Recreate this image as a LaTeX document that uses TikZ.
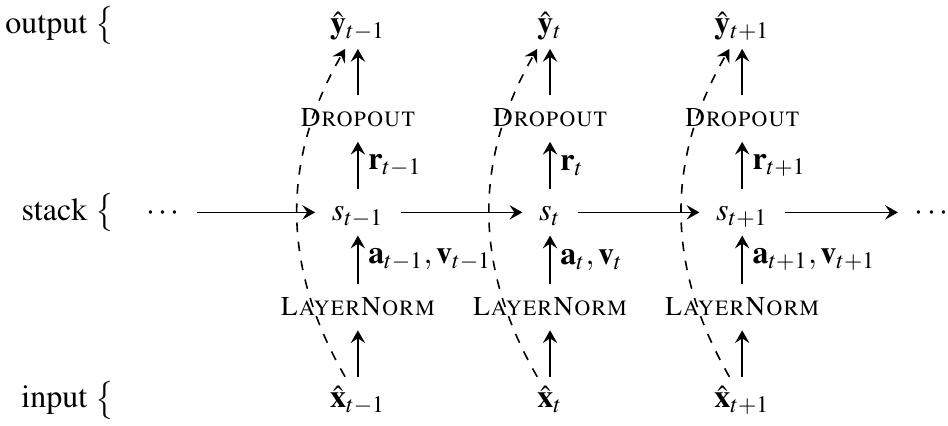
\documentclass[tikz,border=0pt]{standalone}
\usepackage[T1]{fontenc}
\usepackage{mathptmx}
\usetikzlibrary{arrows.meta, positioning}

\begin{document}
\begin{tikzpicture}[
  line width=0.5pt,
  tok/.style={anchor=base, inner xsep=5pt, inner ysep=2.5pt,
    text height=7pt, text depth=2pt},
  lyr/.style={tok, font=\fontsize{8.5}{10}\selectfont\scshape},
  side/.style={anchor=base east, inner sep=0pt},
  arr/.style={-{Stealth[length=4pt, width=4.5pt, inset=1.5pt]}},
  skip/.style={arr, dashed},
  lbl/.style={inner sep=3pt},
]
\useasboundingbox (0,0) rectangle (10.41,-4.67);
% row labels
\node[side] (lblout)   at (1.26,-0.37) {output $\big\{$};
\node[side] (lblstack) at (1.26,-2.42) {stack $\big\{$};
\node[side] (lblin)    at (1.26,-4.48) {input $\big\{$};
% inputs
\node[tok] (xprev) at (3.93,-4.48) {$\hat{\mathbf{x}}_{t-1}$};
\node[tok] (xcur)  at (6.04,-4.48) {$\hat{\mathbf{x}}_{t}$};
\node[tok] (xnext) at (8.15,-4.48) {$\hat{\mathbf{x}}_{t+1}$};
% layer norms
\node[lyr] (lnprev) at (3.93,-3.46) {LayerNorm};
\node[lyr] (lncur)  at (6.04,-3.46) {LayerNorm};
\node[lyr] (lnnext) at (8.15,-3.46) {LayerNorm};
% stack states
\node[tok] (dotsL) at (1.79,-2.42)  {$\cdots$};
\node[tok] (sprev) at (3.93,-2.42)  {$s_{t-1}$};
\node[tok] (scur)  at (6.04,-2.42)  {$s_{t}$};
\node[tok] (snext) at (8.15,-2.42)  {$s_{t+1}$};
\node[tok] (dotsR) at (10.23,-2.42) {$\cdots$};
% dropouts
\node[lyr] (dpprev) at (3.93,-1.39) {Dropout};
\node[lyr] (dpcur)  at (6.04,-1.39) {Dropout};
\node[lyr] (dpnext) at (8.15,-1.39) {Dropout};
% outputs
\node[tok] (yprev) at (3.93,-0.37) {$\hat{\mathbf{y}}_{t-1}$};
\node[tok] (ycur)  at (6.04,-0.37) {$\hat{\mathbf{y}}_{t}$};
\node[tok] (ynext) at (8.15,-0.37) {$\hat{\mathbf{y}}_{t+1}$};

\draw[arr] (xprev) -- (lnprev);
\draw[arr] (xcur)  -- (lncur);
\draw[arr] (xnext) -- (lnnext);
\draw[arr] (lnprev)
  -- node[right,lbl]{$\mathbf{a}_{t-1}, \mathbf{v}_{t-1}$} (sprev);
\draw[arr] (lncur)
  -- node[right,lbl]{$\mathbf{a}_{t}, \mathbf{v}_{t}$} (scur);
\draw[arr] (lnnext)
  -- node[right,lbl]{$\mathbf{a}_{t+1}, \mathbf{v}_{t+1}$} (snext);
\draw[arr] (sprev) -- node[right,lbl]{$\mathbf{r}_{t-1}$} (dpprev);
\draw[arr] (scur)  -- node[right,lbl]{$\mathbf{r}_{t}$} (dpcur);
\draw[arr] (snext) -- node[right,lbl]{$\mathbf{r}_{t+1}$} (dpnext);
\draw[arr] (dpprev) -- (yprev);
\draw[arr] (dpcur)  -- (ycur);
\draw[arr] (dpnext) -- (ynext);
\draw[arr] (dotsL) -- (sprev);
\draw[arr] (sprev) -- (scur);
\draw[arr] (scur)  -- (snext);
\draw[arr] (snext) -- (dotsR);
% residual skips
\draw[skip] ([xshift=-4pt]xprev.north) to[bend left=30]
  ([xshift=-4pt]yprev.south);
\draw[skip] ([xshift=-4pt]xcur.north) to[bend left=30]
  ([xshift=-4pt]ycur.south);
\draw[skip] ([xshift=-4pt]xnext.north) to[bend left=30]
  ([xshift=-4pt]ynext.south);
\end{tikzpicture}
\end{document}
